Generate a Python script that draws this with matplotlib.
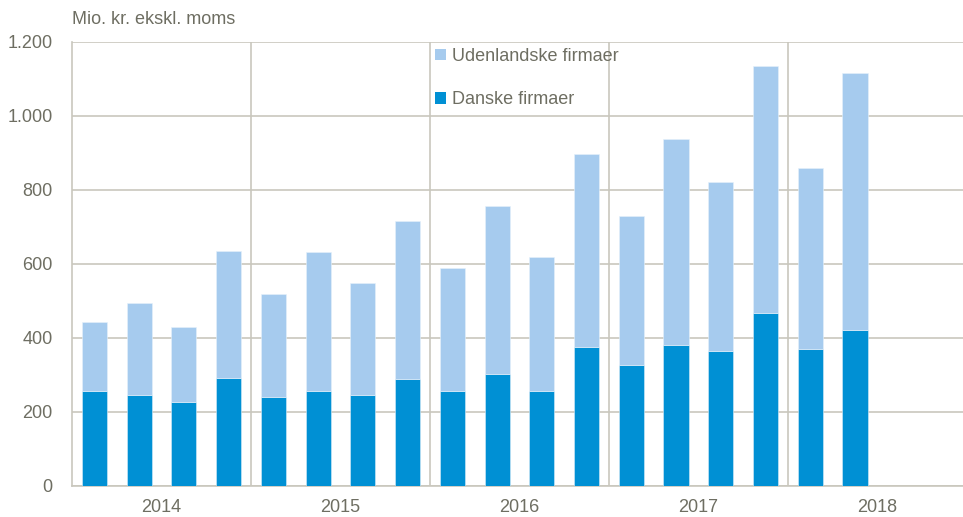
import numpy as np
import matplotlib.pyplot as plt
from matplotlib.patches import Patch

plt.rcParams['font.family'] = ['Liberation Sans', 'DejaVu Sans']

# Quarterly values, Mio. kr. ekskl. moms (2014Q1 - 2018Q2)
years = ["2014", "2015", "2016", "2017", "2018"]
danske = [256, 247, 228, 293, 241, 258, 247, 289, 257, 302, 257, 377,
          326, 380, 366, 468, 370, 422]
total = [442, 494, 430, 634, 519, 632, 549, 716, 588, 757, 619, 896,
         731, 939, 822, 1135, 859, 1116]
udenlandske = [t - d for t, d in zip(total, danske)]

dark = "#0090D4"
light = "#A6CBEE"
grid_c = "#C9C7BD"
text_c = "#6E6E62"
fs = 13

fig = plt.figure(figsize=(9.63, 5.17), dpi=100)
ax = fig.add_axes([72 / 963, 1 - 486 / 517, 1 - 72 / 963 + 0.004, (486 - 42) / 517])

x = np.arange(len(danske))
ax.bar(x, danske, width=0.56, color=dark, edgecolor="#D8ECF8", linewidth=0.4, zorder=3)
ax.bar(x, udenlandske, bottom=danske, width=0.56, color=light, edgecolor="#E6F1FB",
       linewidth=0.4, zorder=3)

ax.set_xlim(-0.5, 19.5)
ax.set_ylim(0, 1200)
ax.set_yticks(np.arange(0, 1201, 200))
ax.set_yticklabels([f"{v:,}".replace(",", ".") for v in range(0, 1201, 200)])
ax.yaxis.grid(True, color=grid_c, linewidth=1.2, zorder=0)

ax.set_xticks([3.5, 7.5, 11.5, 15.5])
ax.set_xticklabels([])
ax.xaxis.grid(True, color=grid_c, linewidth=1.2, zorder=0)
ax.set_xticks([1.5 + 4 * i for i in range(len(years))], minor=True)
ax.set_xticklabels(years, minor=True)

ax.tick_params(axis="both", which="both", length=0, labelsize=fs, colors=text_c)
ax.tick_params(axis="x", which="minor", pad=9)
ax.tick_params(axis="y", pad=14)

for s in ["top", "right"]:
    ax.spines[s].set_visible(False)
for s in ["left", "bottom"]:
    ax.spines[s].set_color(grid_c)
    ax.spines[s].set_linewidth(1.2)

fig.text(72 / 963, 1 - 19 / 517, "Mio. kr. ekskl. moms", fontsize=fs, color=text_c,
         va="center", ha="left")

handles = [Patch(facecolor=light), Patch(facecolor=dark)]
leg = ax.legend(handles, ["Udenlandske firmaer", "Danske firmaer"], loc="upper left",
                bbox_to_anchor=(435 / 963, 1 - 48 / 517), bbox_transform=fig.transFigure,
                frameon=False, fontsize=fs, handlelength=0.6, handleheight=0.6,
                handletextpad=0.35, labelspacing=1.45, borderaxespad=0, borderpad=0)
for t in leg.get_texts():
    t.set_color(text_c)

fig.savefig("out.png", dpi=100)
